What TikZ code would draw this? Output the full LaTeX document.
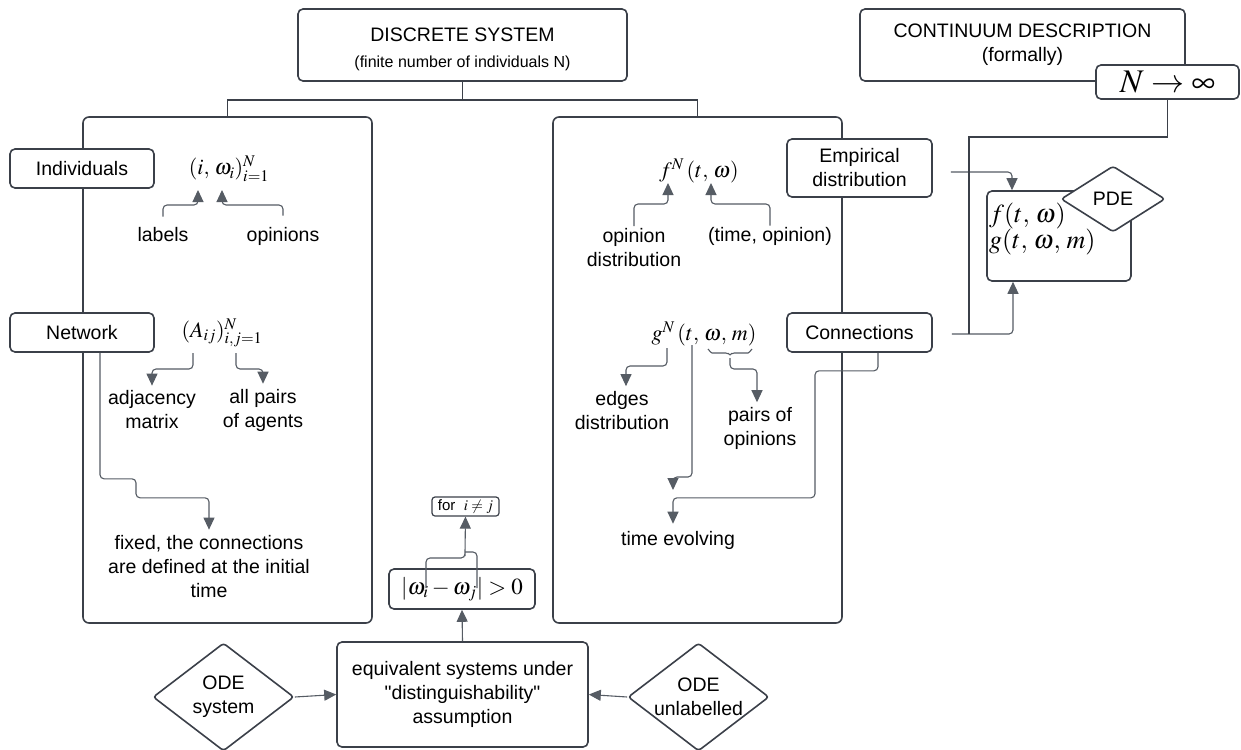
\documentclass[tikz,border=0pt]{standalone}
\usepackage{mathptmx}
\usepackage[no-math]{fontspec}
\setmainfont{Liberation Sans}[Ligatures=TeXOff]
\usetikzlibrary{arrows.meta,shapes.geometric,decorations.pathreplacing,calc}
\definecolor{bc}{HTML}{3B4049}
\definecolor{cc}{HTML}{565C64}
\newcommand\mainfs{\fontsize{19.5}{24}\selectfont}
\newcommand\smallfs{\fontsize{16}{19}\selectfont}
\begin{document}
\begin{tikzpicture}[x=1pt,y=-1pt,
  box/.style={draw=bc, line width=1.6pt, rounded corners=5pt, fill=white, inner sep=0pt, font=\mainfs, align=center},
  frame/.style={draw=bc, line width=1.6pt, rounded corners=6pt, inner sep=0pt},
  dia/.style={diamond, draw=bc, line width=1.6pt, fill=white, inner sep=0pt, rounded corners=3pt, align=center, font=\mainfs, shape aspect=1.3},
  txt/.style={inner sep=0pt, align=center, font=\mainfs},
  fml/.style={inner sep=0pt, font=\fontsize{22}{26}\selectfont},
  conn/.style={draw=cc, line width=1.1pt, rounded corners=4pt},
  arr/.style={conn, -{Triangle[length=12pt,width=11pt]}},
  tree/.style={draw=bc, line width=1.5pt}
]
\useasboundingbox (0,0) rectangle (1241,749);
\clip (0,0) rectangle (1241,749);
\fill[white] (0,0) rectangle (1241,749);

% frames
\node[frame, minimum width=289pt, minimum height=506pt] (lf) at (227.5,370) {};
\node[frame, minimum width=289pt, minimum height=506pt] (rf) at (697.5,370) {};

% discrete title
\node[box, minimum width=329pt, minimum height=72pt] (disc) at (462.5,45) {};
\node[txt] (discT) at (462.5,49) {DISCRETE SYSTEM\\[2pt]{\smallfs (finite number of individuals N)}};
\coordinate (jn) at (462.5,100);
\draw[tree] (disc.south) -- (jn);
\draw[tree] (lf.north) |- (jn) -| (rf.north);

% continuum
\node[box, minimum width=325pt, minimum height=72pt] (cont) at (1022.5,45) {CONTINUUM DESCRIPTION\\(formally)};
\node[box, minimum width=143pt, minimum height=34pt] (ninf) at (1167.5,82) {\fontsize{33}{35}\selectfont$N\to\infty$};

% side boxes
\node[box, minimum width=144pt, minimum height=39pt] (indiv) at (82,168.5) {Individuals};
\node[box, minimum width=144pt, minimum height=39pt] (net) at (82,332.5) {Network};
\node[box, minimum width=145pt, minimum height=58pt] (emp) at (859.5,168) {Empirical\\distribution};
\node[box, minimum width=145pt, minimum height=39pt] (connB) at (859.5,332.5) {Connections};

% left frame content
\node[fml] (indF) at (229,169) {$(i,\,\omega_i{})_{i=1}^{N}$};
\node[txt] (labels) at (163,235) {labels};
\node[txt] (opinions) at (283,236) {opinions};
\coordinate (tI) at (198,190);
\coordinate (tW) at (222,190);
\draw[arr] ([yshift=11pt]labels.north) |- ($(tI)+(0,15)$) -- (tI);
\draw[arr] ([yshift=11pt]opinions.north) |- ($(tW)+(0,15)$) -- (tW);

\node[fml] (netF) at (222,333) {$(A_{ij})_{i,j=1}^{N}$};
\node[txt] (adj) at (152,410) {adjacency\\matrix};
\node[txt] (pairs) at (263,410) {all pairs\\of agents};
\coordinate (sA) at (193,353);
\coordinate (sIJ) at (236,353);
\draw[arr] (sA) -- ++(0,16) -| ([yshift=5pt]adj.north);
\draw[arr] (sIJ) -- ++(0,16) -| ([yshift=5pt]pairs.north);

\node[txt] (fixed) at (209,567) {fixed, the connections\\are defined at the initial\\time};
\draw[arr] ([xshift=18pt]net.south) -- ++(0,126) -- ++(36,0) -- ++(0,19) -| ([yshift=6pt]fixed.north);

% right frame content
\node[fml] (fN) at (699,171) {$f^{N}\,(t,\,\omega)$};
\node[txt] (opdist) at (634,247.5) {opinion\\distribution};
\node[txt] (timeop) at (770,236) {(time, opinion)};
\coordinate (tF) at (668,183);
\coordinate (tT) at (711,183);
\draw[arr] ([yshift=2pt]opdist.north) |- ($(tF)+(0,21)$) -- (tF);
\draw[arr] ([yshift=1pt]timeop.north) |- ($(tT)+(0,21)$) -- (tT);

\node[fml] (gN) at (704,334) {$g^{N}\,(t,\,\omega,\,m)$};
\node[txt] (edges) at (622,410.5) {edges\\distribution};
\node[txt] (pairsop) at (760,428.5) {pairs of\\opinions};
\node[txt] (timeev) at (678,540) {time evolving};
\coordinate (sG) at (667,348);
\coordinate (sT) at (692,345);
\coordinate (brT) at (730,358);
\coordinate (mev) at (673,490);
\draw[arr] (sG) -- ++(0,18) -| ([xshift=4pt,yshift=5pt]edges.north);
\draw[conn, decorate, decoration={brace, mirror, amplitude=8pt}] (708,349) -- (752,349);
\draw[arr] (brT) -- ++(0,11) -| ([xshift=-3pt,yshift=5pt]pairsop.north);
\draw[arr] (sT) -- ++(0,132) -| (mev);
\draw[arr] ([xshift=18.5pt]connB.south) -- ++(0,18) -- ++(-63,0) -- ++(0,127) -| ([xshift=-5pt,yshift=7pt]timeev.north);

% PDE result
\node[box, minimum width=144pt, minimum height=90pt] (res) at (1059,236) {};
\node[inner sep=0pt, anchor=base west, font=\fontsize{26}{28}\selectfont] (fT) at (989,222) {$f(t,\,\omega)$};
\node[inner sep=0pt, anchor=base west, font=\fontsize{26}{28}\selectfont] (gT) at (989,248) {$g(t,\,\omega,\,m)$};
\node[dia, minimum width=104pt, minimum height=66pt] (pde) at (1113,199) {PDE};

\coordinate (jr) at (969,334);
\draw[arr] ([xshift=18pt,yshift=-4pt]emp.east) -| ([xshift=-47pt]res.north);
\draw[arr] ([xshift=19pt,yshift=-1.5pt]connB.east) -| ([xshift=-46pt]res.south);
\draw[tree] (ninf.south) -- ++(0,37) -| (jr);

% bottom
\node[box, minimum width=146pt, minimum height=40pt] (absb) at (462,589) {\fontsize{23}{26}\selectfont$|\omega_i-\omega_j|>0$};
\node[box, minimum width=67pt, minimum height=19pt, rounded corners=3pt, line width=1.2pt] (forij) at (465.5,506.5) {\fontsize{15}{17}\selectfont for\ \ $i\neq j$};
\coordinate (sWi) at (426,588);
\coordinate (sWj) at (477,588);
\coordinate (mrg) at (465,552);
\draw[arr] (sWi) |- ($(mrg)+(0,6)$) -- (mrg) -- (forij.south);
\draw[conn] (sWj) |- (mrg);

\node[box, minimum width=251pt, minimum height=105pt] (equiv) at (462.5,694.5) {equivalent systems under\\"distinguishability"\\assumption};
\node[dia, minimum width=141pt, minimum height=108pt] (ode1) at (223.5,697) {ODE\\system};
\node[dia, minimum width=141pt, minimum height=108pt] (ode2) at (698.5,697) {ODE\\unlabelled};
\draw[arr] (equiv.north) -- (absb.south);
\draw[arr] (ode1.east) -- (equiv.west);
\draw[arr] (ode2.west) -- (equiv.east);
\end{tikzpicture}
\end{document}
